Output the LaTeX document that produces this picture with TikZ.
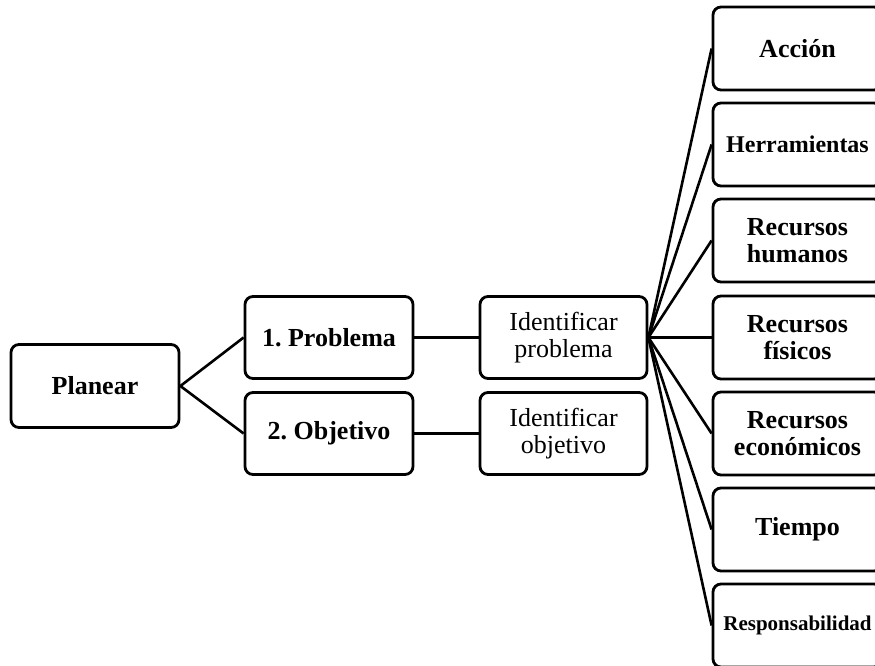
\documentclass[tikz,border=0pt]{standalone}
\usepackage{fontspec}
\setmainfont{Liberation Serif}
\frenchspacing
\begin{document}
\begin{tikzpicture}[x=1pt,y=-1pt,
  box/.style={draw, rounded corners=8pt, line width=2.8pt, align=center, inner sep=0pt,
    minimum width=168pt, minimum height=82pt, font=\fontsize{26}{27}\selectfont\bfseries},
  plainbox/.style={box, font=\fontsize{26}{27}\selectfont},
  rbox/.style={box, minimum width=169pt, minimum height=83pt},
  link/.style={line width=2.6pt}]
\useasboundingbox (0,0) rectangle (875,666);
\clip (0,0) rectangle (875,666);
\node[box, minimum height=83pt] (plan) at (95,386) {Planear};
\node[box] (prob) at (329,337.5) {1. Problema};
\node[box] (obj) at (329,433.5) {2. Objetivo};
\node[plainbox, minimum width=167pt] (idp) at (563.5,337.5) {Identificar\\problema};
\node[plainbox, minimum width=167pt] (ido) at (563.5,433.5) {Identificar\\objetivo};
\node[rbox] (r1) at (797.5,48.5) {Acción};
\node[rbox, font=\fontsize{24}{26}\selectfont\bfseries] (r2) at (797.5,144.5) {Herramientas};
\node[rbox] (r3) at (797.5,240.5) {Recursos\\humanos};
\node[rbox] (r4) at (797.5,337.5) {Recursos\\físicos};
\node[rbox] (r5) at (797.5,433.5) {Recursos\\económicos};
\node[rbox] (r6) at (797.5,529.5) {Tiempo};
\node[rbox, font=\fontsize{21}{23}\selectfont\bfseries] (r7) at (797.5,625.5) {Responsabilidad};
\draw[link] (plan.east) -- (prob.west);
\draw[link] (plan.east) -- (obj.west);
\draw[link] (prob.east) -- (idp.west);
\draw[link] (obj.east) -- (ido.west);
\foreach \r in {r1,r2,r3,r4,r5,r6,r7}
  \draw[link] (idp.east) -- (\r.west);
\end{tikzpicture}
\end{document}
